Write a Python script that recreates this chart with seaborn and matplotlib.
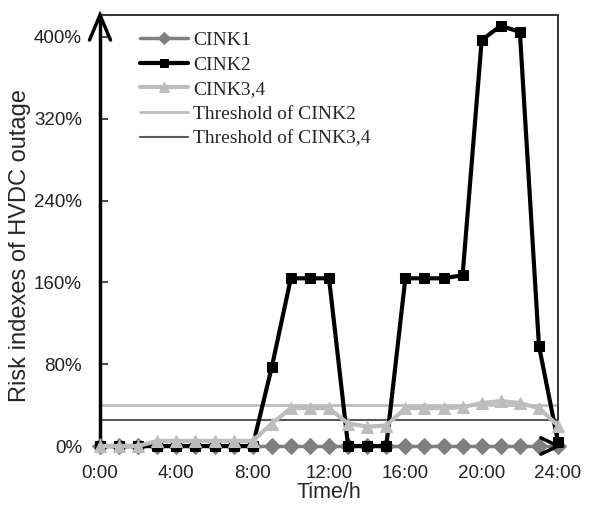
import numpy as np
import pandas as pd
import matplotlib
matplotlib.use("Agg")
import matplotlib.pyplot as plt
import seaborn as sns

hours = list(range(25))
cink1 = [0] * 25
cink2 = [0, 0, 0, 0, 0, 0, 0, 0, 0, 77, 164, 164, 164, 0, 0, 0,
         164, 164, 164, 167, 397, 411, 405, 98, 4]
cink34 = [0, 0, 0, 5, 5, 5, 5, 5, 5, 22, 37, 37, 37, 22, 19, 20,
          37, 37, 37, 38, 42, 44, 42, 37, 20]
thr_cink2 = 40
thr_cink34 = 25
xtick_labels = ["0:00", "4:00", "8:00", "12:00", "16:00", "20:00", "24:00"]
ytick_vals = [0, 80, 160, 240, 320, 400]

sns.set_style("white")
plt.rcParams['font.family'] = ['Liberation Sans', 'DejaVu Sans']

fig = plt.figure(figsize=(5.9, 5.07), dpi=100)
ax = fig.add_axes([0.1695, 0.1203, 0.7763, 0.8501])

df = pd.DataFrame({"h": hours, "c1": cink1, "c2": cink2, "c34": cink34})

sns.lineplot(data=df, x="h", y="c1", ax=ax, color="#7f7f7f", lw=2.5,
             marker="D", markersize=8, markeredgecolor="#7f7f7f",
             label="CINK1", clip_on=False, zorder=3)
sns.lineplot(data=df, x="h", y="c2", ax=ax, color="black", lw=3,
             marker="s", markersize=7, markeredgecolor="black",
             label="CINK2", clip_on=False, zorder=4)
sns.lineplot(data=df, x="h", y="c34", ax=ax, color="#bdbdbd", lw=3,
             marker="^", markersize=9, markeredgecolor="#bdbdbd",
             label="CINK3,4", clip_on=False, zorder=5)
ax.axhline(thr_cink2, color="#bdbdbd", lw=2, label="Threshold of CINK2", zorder=2)
ax.axhline(thr_cink34, color="#595959", lw=1.5, label="Threshold of CINK3,4", zorder=2)

ax.set_xlim(0, 24)
ax.set_ylim(0, 421.5)
ax.set_xticks(range(0, 25, 4))
ax.set_xticklabels(xtick_labels, fontsize=13.5, color="#222222")
ax.set_yticks(ytick_vals)
ax.set_yticklabels([f"{v}%" for v in ytick_vals], fontsize=13.5, color="#222222")
ax.tick_params(axis="y", direction="in", length=6, width=1.2, left=True, pad=13)
ax.tick_params(axis="x", length=0, pad=14)
ax.set_xlabel("Time/h", fontsize=15.5, labelpad=0)
ax.set_ylabel("Risk indexes of HVDC outage", fontsize=17)
ax.yaxis.set_label_coords(-0.15, 0.466)

for side in ["top", "right"]:
    ax.spines[side].set_color("#333333")
    ax.spines[side].set_linewidth(1.4)
ax.spines["left"].set_color("black")
ax.spines["left"].set_linewidth(2.5)
ax.spines["bottom"].set_visible(False)

# arrow heads on the axes
ax.plot([-0.55, 0, 0.55], [397, 421.5, 397], color="black", lw=2.5,
        clip_on=False, zorder=6, solid_joinstyle="miter")
ax.plot([23.1, 24, 23.1], [8, 0, -8], color="black", lw=2.5,
        clip_on=False, zorder=6, solid_joinstyle="miter")

leg = ax.legend(loc="upper left", bbox_to_anchor=(0.087, 0.962), frameon=False,
                prop={"family": "Liberation Serif", "size": 14},
                handlelength=2.5, handletextpad=0.25, labelspacing=0.36,
                borderaxespad=0, borderpad=0, markerscale=0.75)

fig.savefig("out.png", dpi=100)
